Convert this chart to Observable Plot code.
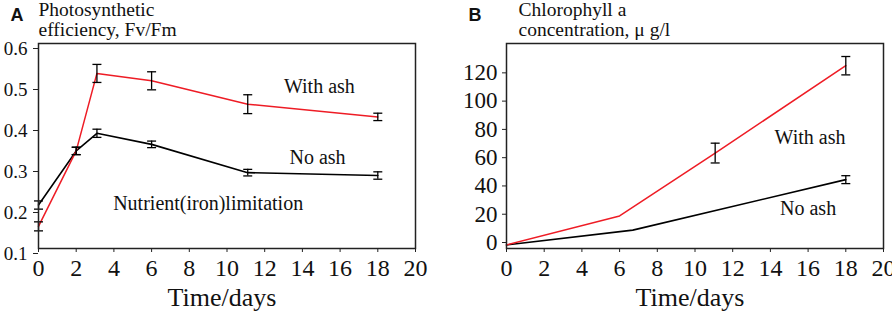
<!DOCTYPE html>
<html><head><meta charset="utf-8">
<script src="https://cdn.jsdelivr.net/npm/d3@7"></script>
<script src="https://cdn.jsdelivr.net/npm/@observablehq/plot@0.6"></script>
<style>
body{margin:0;background:#fff;}
#wrap{display:flex;width:892px;height:313px;overflow:hidden;}
#wrap svg{flex:none;}
#wrap svg text{font-family:'Liberation Serif','Times New Roman',serif;}
#wrap svg .letter text, #wrap svg text.letter{font-family:'Liberation Sans',Arial,sans-serif;font-weight:bold;}
</style></head><body><div id="wrap"></div>
<script>
// ---- shared ----
const xTicks = [0, 2, 4, 6, 8, 10, 12, 14, 16, 18, 20];
const xLabel = "Time/days";

// ---- Panel A : photosynthetic efficiency ----
const aTitle = "Photosynthetic\nefficiency, Fv/Fm";
const aYTicks = [0.1, 0.2, 0.3, 0.4, 0.5, 0.6];
const aWithAshX = [0, 2, 3.1, 6, 11.1, 18];
const aWithAshY = [0.154, 0.338, 0.527, 0.509, 0.452, 0.421];
const aWithAshErr = [0.011, 0.009, 0.022, 0.022, 0.023, 0.009];
const aNoAshX = [0, 2, 3.1, 6, 11.1, 18];
const aNoAshY = [0.206, 0.338, 0.381, 0.354, 0.285, 0.278];
const aNoAshErr = [0.01, 0.009, 0.01, 0.008, 0.008, 0.009];
const aNotes = ["With ash", "No ash", "Nutrient(iron)limitation"];
const aNoteX = [14.9, 14.8, 9.0];
const aNoteY = [0.495, 0.322, 0.21];

// ---- Panel B : chlorophyll a ----
const bTitle = "Chlorophyll a\nconcentration, \u03bc g/l";
const bYTicks = [0, 20, 40, 60, 80, 100, 120];
const bWithAshX = [0, 6, 11.07, 18];
const bWithAshY = [2.5, 23, 67.5, 129.3];
const bWithAshErr = [null, null, 7, 6.5];
const bNoAshX = [0, 6.7, 18];
const bNoAshY = [2.5, 13, 48.7];
const bNoAshErr = [null, null, 2.8];
const bNotes = ["With ash", "No ash"];
const bNoteX = [16.1, 16.0];
const bNoteY = [78.5, 28.4];

const RED = "#ee1c25";
const SERIF = "'Liberation Serif', 'Times New Roman', serif";
const SANS = "'Liberation Sans', Arial, sans-serif";

function table(xs, ys, es) {
  return xs.map((x, i) => ({x, y: ys[i], err: es ? es[i] : null}));
}
const cap = {draw(ctx) { ctx.moveTo(-4.5, 0); ctx.lineTo(4.5, 0); }};

function errMarks(rows) {
  const e = rows.filter(d => d.err != null);
  return [
    Plot.ruleX(e, {x: "x", y1: d => d.y - d.err, y2: d => d.y + d.err, stroke: "black", strokeWidth: 1.3}),
    Plot.dot(e, {x: "x", y: d => d.y + d.err, symbol: cap, fill: "none", stroke: "black", strokeWidth: 1.3}),
    Plot.dot(e, {x: "x", y: d => d.y - d.err, symbol: cap, fill: "none", stroke: "black", strokeWidth: 1.3})
  ];
}

function panel(o) {
  const withAsh = table(o.wx, o.wy, o.we);
  const noAsh = table(o.nx, o.ny, o.ne);
  const notes = o.notes.map((t, i) => ({t, x: o.noteX[i], y: o.noteY[i]}));
  return Plot.plot({
    width: 446, height: 313,
    marginLeft: o.ml, marginRight: o.mr, marginTop: 43, marginBottom: 65,
    style: {fontFamily: SERIF, color: "#111", background: "#fff"},
    x: {domain: [0, 20]},
    y: {domain: o.yDomain},
    marks: [
      Plot.axisX({ticks: xTicks, tickSize: 4, tickPadding: 6, fontSize: 24, fontFamily: SERIF, label: null, stroke: "#222"}),
      Plot.axisY({ticks: o.yTicks, tickSize: o.yTickSize, tickPadding: o.yTickPad, fontSize: o.yFont, fontFamily: SERIF, dy: o.yDy, label: null, tickFormat: o.yFmt, stroke: "#222"}),
      Plot.line(noAsh, {x: "x", y: "y", stroke: "black", strokeWidth: 1.6}),
      Plot.line(withAsh, {x: "x", y: "y", stroke: RED, strokeWidth: 1.5}),
      ...errMarks(noAsh),
      ...errMarks(withAsh),
      Plot.text(notes, {x: "x", y: "y", text: "t", fontSize: o.noteFont, fontFamily: SERIF, fill: "#111"}),
      Plot.frame({stroke: "#222", strokeWidth: 1.5}),
      Plot.text([o.title], {frameAnchor: "top-left", textAnchor: "start", lineAnchor: "bottom", lineHeight: 1, dx: o.titleDx, dy: -8, fontSize: 19.5, fontFamily: SERIF, fill: "#111"}),
      Plot.text([o.letter], {frameAnchor: "top-left", textAnchor: "start", lineAnchor: "bottom", dx: o.letterDx, dy: -23, fontSize: 18, fontWeight: "bold", fontFamily: SANS, fill: "#111", className: "letter"}),
      Plot.text([xLabel], {frameAnchor: "bottom", lineAnchor: "bottom", dx: -5, dy: 57, fontSize: 26, fontFamily: SERIF, fill: "#111"})
    ]
  });
}

const wrap = document.getElementById("wrap");
wrap.append(panel({
  ml: 38, mr: 31, yDomain: [0.1, 0.6], yTicks: aYTicks, yFmt: d3.format(".1f"),
  yTickSize: 5, yTickPad: 6, yFont: 19, yDy: 5,
  wx: aWithAshX, wy: aWithAshY, we: aWithAshErr,
  nx: aNoAshX, ny: aNoAshY, ne: aNoAshErr,
  notes: aNotes, noteX: aNoteX, noteY: aNoteY, noteFont: 20,
  title: aTitle, titleDx: 0, letter: "A", letterDx: -28
}));
wrap.append(panel({
  ml: 60, mr: 9, yDomain: [0, 145], yTicks: bYTicks, yFmt: d3.format("d"),
  yTickSize: 4, yTickPad: 5, yFont: 23, yDy: -6,
  wx: bWithAshX, wy: bWithAshY, we: bWithAshErr,
  nx: bNoAshX, ny: bNoAshY, ne: bNoAshErr,
  notes: bNotes, noteX: bNoteX, noteY: bNoteY, noteFont: 20,
  title: bTitle, titleDx: 12, letter: "B", letterDx: -38
}));
</script></body></html>
